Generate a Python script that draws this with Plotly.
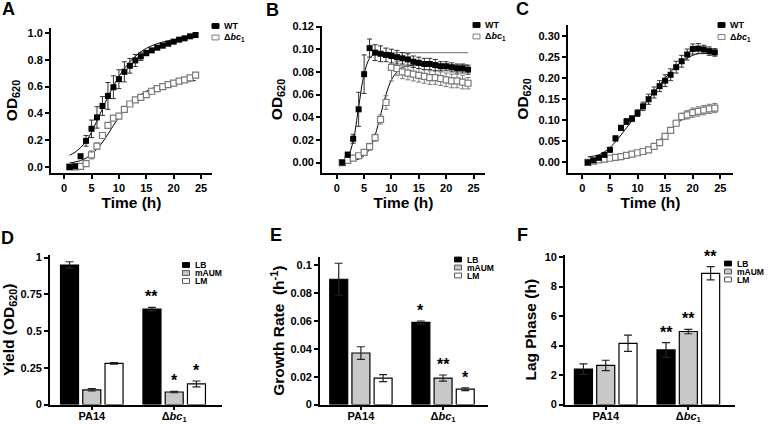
import plotly.graph_objects as go

W, H = 775, 424
FONT = "Liberation Sans"

# ---------------- data ----------------
t = list(range(1, 25))

# Panel A (LB)
A_wt = [0.00, 0.005, 0.08, 0.195, 0.285, 0.37, 0.455, 0.53, 0.595, 0.655, 0.71, 0.755,
        0.795, 0.825, 0.85, 0.87, 0.89, 0.905, 0.92, 0.935, 0.95, 0.96, 0.975, 0.985]
A_wt_err = [0.005, 0.005, 0.015, 0.04, 0.065, 0.08, 0.07, 0.1, 0.085, 0.07, 0.075, 0.055,
            0.045, 0.03, 0.02, 0.015, 0.012, 0.01, 0.01, 0.01, 0.01, 0.01, 0.01, 0.01]
A_mut = [0.0, 0.0, 0.005, 0.025, 0.09, 0.155, 0.235, 0.31, 0.365, 0.38, 0.43, 0.47,
         0.50, 0.52, 0.54, 0.565, 0.585, 0.60, 0.615, 0.625, 0.64, 0.65, 0.665, 0.685]
A_mut_err = [0.003, 0.003, 0.005, 0.01, 0.03, 0.025, 0.02, 0.015, 0.015, 0.01, 0.01, 0.01,
             0.01, 0.01, 0.01, 0.01, 0.01, 0.01, 0.01, 0.01, 0.01, 0.01, 0.01, 0.015]
A_wt_fit = [0.088, 0.11, 0.145, 0.19, 0.26, 0.345, 0.435, 0.525, 0.605, 0.675, 0.735, 0.785,
            0.825, 0.86, 0.885, 0.905, 0.92, 0.932, 0.942, 0.95, 0.955, 0.96, 0.963, 0.966]
A_mut_fit = [0.03, 0.037, 0.048, 0.066, 0.095, 0.135, 0.185, 0.245, 0.31, 0.37, 0.425, 0.47,
             0.51, 0.54, 0.565, 0.585, 0.60, 0.61, 0.62, 0.628, 0.634, 0.638, 0.642, 0.645]

# Panel B (mAUM)
B_wt = [0.0, 0.007, 0.021, 0.047, 0.078, 0.101, 0.097, 0.096, 0.095, 0.094, 0.093, 0.092,
        0.091, 0.089, 0.088, 0.087, 0.087, 0.086, 0.085, 0.085, 0.084, 0.083, 0.083, 0.082]
B_wt_err = [0.001, 0.002, 0.004, 0.015, 0.017, 0.008, 0.007, 0.007, 0.006, 0.006, 0.006, 0.005,
            0.005, 0.005, 0.005, 0.005, 0.005, 0.005, 0.004, 0.004, 0.004, 0.004, 0.004, 0.004]
B_mut = [0.0, 0.002, 0.004, 0.006, 0.009, 0.014, 0.022, 0.038, 0.053, 0.084, 0.083, 0.080,
         0.079, 0.078, 0.077, 0.076, 0.075, 0.075, 0.074, 0.073, 0.072, 0.072, 0.071, 0.070]
B_mut_err = [0.001, 0.001, 0.001, 0.002, 0.002, 0.003, 0.003, 0.004, 0.006, 0.012, 0.006, 0.006,
             0.006, 0.006, 0.006, 0.006, 0.006, 0.006, 0.006, 0.006, 0.006, 0.006, 0.006, 0.005]
B_wt_fit = [0.001, 0.005, 0.019, 0.049, 0.078, 0.092, 0.096, 0.097, 0.097, 0.097]
B_wt_plateau = [0.097] * 15
B_mut_fit = [0.000, 0.001, 0.002, 0.003, 0.006, 0.012, 0.024, 0.042, 0.060, 0.073, 0.080, 0.084,
             0.085, 0.086, 0.086, 0.086, 0.086, 0.086, 0.086, 0.086, 0.086, 0.086, 0.086, 0.086]

# Panel C (LM)
C_wt = [0.0, 0.005, 0.011, 0.018, 0.030, 0.057, 0.082, 0.097, 0.104, 0.117, 0.133, 0.150,
        0.166, 0.181, 0.194, 0.208, 0.226, 0.240, 0.256, 0.269, 0.270, 0.268, 0.264, 0.261]
C_wt_err = [0.002, 0.003, 0.003, 0.004, 0.005, 0.006, 0.006, 0.007, 0.007, 0.008, 0.010, 0.012,
            0.013, 0.013, 0.014, 0.014, 0.014, 0.014, 0.013, 0.012, 0.012, 0.010, 0.010, 0.009]
C_mut = [0.0, 0.003, 0.006, 0.008, 0.010, 0.012, 0.014, 0.017, 0.020, 0.023, 0.026, 0.030,
         0.038, 0.047, 0.062, 0.076, 0.093, 0.109, 0.113, 0.118, 0.121, 0.124, 0.127, 0.129]
C_mut_err = [0.002, 0.002, 0.002, 0.002, 0.002, 0.002, 0.002, 0.002, 0.002, 0.002, 0.002, 0.002,
             0.003, 0.004, 0.005, 0.006, 0.007, 0.008, 0.010, 0.011, 0.011, 0.011, 0.011, 0.011]
C_wt_fit = [0.013, 0.015, 0.018, 0.025, 0.035, 0.049, 0.065, 0.082, 0.099, 0.116, 0.133, 0.150,
            0.167, 0.184, 0.200, 0.215, 0.228, 0.239, 0.248, 0.254, 0.258, 0.259, 0.258, 0.256]
C_mut_fit = [0.005, 0.006, 0.007, 0.009, 0.011, 0.013, 0.015, 0.018, 0.021, 0.024, 0.028, 0.034,
             0.042, 0.053, 0.066, 0.079, 0.091, 0.101, 0.109, 0.116, 0.121, 0.125, 0.128, 0.130]

# Bar panels
strains = ["PA14", "Δ<i>bc</i><sub>1</sub>"]
media = ["LB", "mAUM", "LM"]
media_colors = ["#000000", "#c8c8c8", "#ffffff"]

D_vals = [[0.95, 0.65], [0.10, 0.085], [0.28, 0.14]]
D_err = [[0.022, 0.012], [0.008, 0.005], [0.006, 0.02]]
D_stars = ["**", "*", "*"]

E_vals = [[0.090, 0.059], [0.037, 0.019], [0.019, 0.011]]
E_err = [[0.0115, 0.001], [0.0045, 0.0022], [0.0025, 0.001]]
E_stars = ["*", "**", "*"]

F_vals = [[2.4, 3.7], [2.65, 4.95], [4.15, 8.9]]
F_err = [[0.35, 0.5], [0.35, 0.15], [0.55, 0.45]]
F_stars = ["**", "**", "**"]

BARGAP = 0.19
BARGROUPGAP = 0.19

# ---------------- helpers ----------------
def pxx(p):
    return p / W


def pxy(p):
    return 1 - p / H


fig = go.Figure()

tick_font = dict(family=FONT, size=11, color="black", weight="bold")
title_font = dict(family=FONT, size=15.5, color="black", weight="bold")

axis_common = dict(showline=True, linecolor="black", linewidth=1.8, ticks="outside",
                   ticklen=4, tickwidth=1.6, tickcolor="black", showgrid=False,
                   zeroline=False, tickfont=tick_font, automargin=False)

# time-course panels
tc_panels = [
    dict(n=1, dx=(51, 212), dy=(28, 173), xr=[-2.4, 27.0], yr=[-0.045, 1.037],
         yt=[0, 0.2, 0.4, 0.6, 0.8, 1.0], yf=".1f",
         wt=A_wt, we=A_wt_err, mu=A_mut, me=A_mut_err, wf=A_wt_fit, mf=A_mut_fit),
    dict(n=2, dx=(322, 485), dy=(26, 173), xr=[-2.7, 27.1], yr=[-0.0092, 0.1205],
         yt=[0, 0.02, 0.04, 0.06, 0.08, 0.10, 0.12], yf=".2f",
         wt=B_wt, we=B_wt_err, mu=B_mut, me=B_mut_err, wf=B_wt_fit, mf=B_mut_fit),
    dict(n=3, dx=(568, 733), dy=(25, 173), xr=[-2.6, 27.3], yr=[-0.025, 0.326],
         yt=[0, 0.05, 0.10, 0.15, 0.20, 0.25, 0.30], yf=".2f",
         wt=C_wt, we=C_wt_err, mu=C_mut, me=C_mut_err, wf=C_wt_fit, mf=C_mut_fit),
]

for p in tc_panels:
    n = p["n"]
    xa, ya = f"x{n}", f"y{n}"
    fig.add_trace(go.Scatter(x=t[:len(p["mf"])], y=p["mf"], mode="lines", xaxis=xa, yaxis=ya,
                             line=dict(color="black", width=1, shape="spline"), showlegend=False))
    fig.add_trace(go.Scatter(x=t[:len(p["wf"])], y=p["wf"], mode="lines", xaxis=xa, yaxis=ya,
                             line=dict(color="black", width=1, shape="spline"), showlegend=False))
    if n == 2:
        fig.add_trace(go.Scatter(x=t[9:], y=B_wt_plateau, mode="lines", xaxis=xa, yaxis=ya,
                                 line=dict(color="#8a8a8a", width=1.2), showlegend=False))
    fig.add_trace(go.Scatter(x=t, y=p["mu"], mode="markers", xaxis=xa, yaxis=ya,
                             marker=dict(symbol="square", size=6, color="white",
                                         line=dict(color="#7a7a7a", width=1.2)),
                             error_y=dict(type="data", array=p["me"], color="#7a7a7a",
                                          thickness=1, width=2.5),
                             showlegend=False))
    fig.add_trace(go.Scatter(x=t, y=p["wt"], mode="markers", xaxis=xa, yaxis=ya,
                             marker=dict(symbol="square", size=6, color="black"),
                             error_y=dict(type="data", array=p["we"], color="#333333",
                                          thickness=1, width=2.5),
                             showlegend=False))
    sfx = "" if n == 1 else str(n)
    fig.layout["xaxis" + sfx] = dict(
        axis_common, domain=[pxx(p["dx"][0]), pxx(p["dx"][1])], range=p["xr"],
        tickvals=[0, 5, 10, 15, 20, 25], anchor=ya,
        title=dict(text="Time (h)", font=title_font, standoff=0))
    fig.layout["yaxis" + sfx] = dict(
        axis_common, domain=[pxy(p["dy"][1]), pxy(p["dy"][0])], range=p["yr"],
        tickvals=p["yt"], tickformat=p["yf"], anchor=xa,
        title=dict(text="OD<sub>620</sub>", font=title_font, standoff=6))

# bar panels
bar_panels = [
    dict(n=4, dx=(50, 222), dy=(255, 404.5), xr=[-0.507, 1.58], yr=[0, 1.018],
         yt=[0, 0.25, 0.5, 0.75, 1], ytt=["0", "0.25", "0.5", "0.75", "1"],
         vals=D_vals, errs=D_err, stars=D_stars, title="Yield (OD<sub>620</sub>)", so=5),
    dict(n=5, dx=(320, 488), dy=(257, 404.5), xr=[-0.498, 1.547], yr=[0, 0.106],
         yt=[0, 0.02, 0.04, 0.06, 0.08, 0.1], ytt=["0", "0.02", "0.04", "0.06", "0.08", "0.1"],
         vals=E_vals, errs=E_err, stars=E_stars, title="Growth Rate  (h<sup>-1</sup>)", so=2),
    dict(n=6, dx=(565, 735), dy=(255, 404.5), xr=[-0.493, 1.565], yr=[0, 10.14],
         yt=[0, 2, 4, 6, 8, 10], ytt=["0", "2", "4", "6", "8", "10"],
         vals=F_vals, errs=F_err, stars=F_stars, title="Lag Phase (h)", so=4),
]

annotations = []
for p in bar_panels:
    n = p["n"]
    xa, ya = f"x{n}", f"y{n}"
    for i, m in enumerate(media):
        fig.add_trace(go.Bar(x=[0, 1], y=p["vals"][i], xaxis=xa, yaxis=ya, name=m,
                             marker=dict(color=media_colors[i], line=dict(color="black", width=1.2)),
                             error_y=dict(type="data", array=p["errs"][i], color="#222222",
                                          thickness=1.2, width=4),
                             showlegend=False))
        off = (i - 1) * (1 - BARGAP) / 3
        annotations.append(dict(xref=xa, yref=ya, x=1 + off,
                                y=p["vals"][i][1] + p["errs"][i][1], text=p["stars"][i],
                                showarrow=False, yanchor="bottom", xanchor="center",
                                font=dict(family=FONT, size=16, color="black")))
    fig.layout[f"xaxis{n}"] = dict(
        axis_common, domain=[pxx(p["dx"][0]), pxx(p["dx"][1])], range=p["xr"],
        tickvals=[0, 1], ticktext=strains, anchor=ya, ticklen=3.5, ticklabelstandoff=-3)
    fig.layout[f"yaxis{n}"] = dict(
        axis_common, domain=[pxy(p["dy"][1]), pxy(p["dy"][0])], range=p["yr"],
        tickvals=p["yt"], ticktext=p["ytt"], anchor=xa,
        title=dict(text=p["title"], font=title_font, standoff=p["so"]))

# panel letters
for letter, (lx, ly) in zip("ABCDEF", [(8, 9), (272, 10), (522, 9.5), (7.5, 238), (276, 235), (522, 234.5)]):
    annotations.append(dict(xref="paper", yref="paper", x=pxx(lx), y=pxy(ly), text=letter,
                            showarrow=False, xanchor="center", yanchor="middle",
                            font=dict(family=FONT, size=18, color="black", weight="bold")))

# legends (drawn manually)
shapes = []
tc_leg = [("WT", "black", "black"), ("Δ<i>bc</i><sub>1</sub>", "white", "#7a7a7a")]
tc_leg_pos = [(212, 26, 11.5), (473, 25, 11.5), (718, 25, 12)]
bar_leg_pos = [(182.5, 265, 8), (454.5, 259.5, 8), (724.5, 263.5, 8)]


def add_legend(items, pos, size):
    x0, y0, dy = pos
    for k, (label, fill, edge) in enumerate(items):
        cy = y0 + k * dy
        shapes.append(dict(type="rect", xref="paper", yref="paper",
                           x0=pxx(x0), x1=pxx(x0 + 7), y0=pxy(cy + 2.4), y1=pxy(cy - 2.4),
                           fillcolor=fill, line=dict(color=edge, width=1)))
        annotations.append(dict(xref="paper", yref="paper", x=pxx(x0 + 10), y=pxy(cy),
                                text=label, showarrow=False, xanchor="left", yanchor="middle",
                                font=dict(family=FONT, size=size, color="black", weight="bold")))


for pos in tc_leg_pos:
    add_legend(tc_leg, pos, 9)
bar_items = [(m, c, "black" if c == "#000000" else "#555555") for m, c in zip(media, media_colors)]
for pos in bar_leg_pos:
    add_legend(bar_items, pos, 8.5)

fig.update_layout(
    width=W, height=H, margin=dict(l=0, r=0, t=0, b=0),
    paper_bgcolor="white", plot_bgcolor="white",
    font=dict(family=FONT, color="black", weight="bold"),
    barmode="group", bargap=BARGAP, bargroupgap=BARGROUPGAP,
    showlegend=False, annotations=annotations, shapes=shapes,
)

fig.write_html("out.html")
